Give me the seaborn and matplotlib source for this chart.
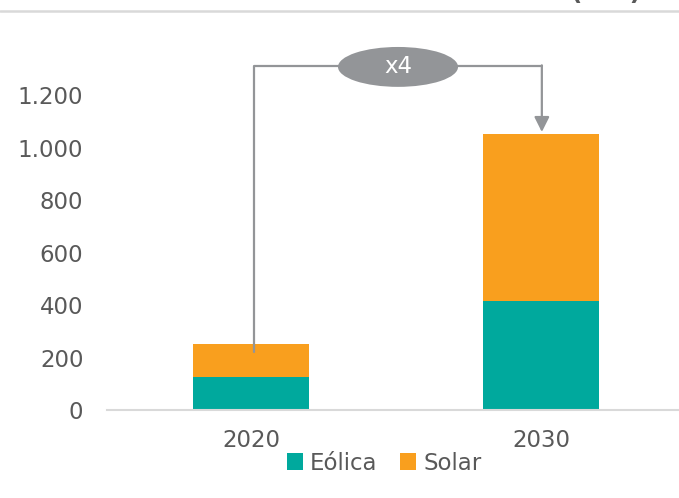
import matplotlib
matplotlib.use("Agg")
import matplotlib.pyplot as plt
from matplotlib.patches import Ellipse, Patch
from matplotlib.lines import Line2D
import seaborn as sns
import pandas as pd

# Installed capacity by technology
years = ["2020", "2030"]
eolica = [125, 415]
solar = [126, 636]
series_names = ["Eólica", "Solar"]
yticks = [0, 200, 400, 600, 800, 1000, 1200]
ytick_labels = ["0", "200", "400", "600", "800", "1.000", "1.200"]
growth_label = "x4"

teal = "#00A99D"
orange = "#F99F1E"
grey_text = "#595959"
connector = "#939598"

df = pd.DataFrame({"year": years, "eolica": eolica, "solar": solar})
df["total"] = df["eolica"] + df["solar"]

sns.set_style("white")
plt.rcParams["font.family"] = ["DejaVu Sans"]

W, H = 679, 498
fig = plt.figure(figsize=(W / 100, H / 100), dpi=100)
ax = fig.add_axes([107 / W, (H - 410) / H, 1 - 107 / W, 367.5 / H])

# stacked bars: total first (solar on top), then wind from the base
sns.barplot(data=df, x="year", y="total", color=orange, width=0.4,
            saturation=1, ax=ax, edgecolor="none")
sns.barplot(data=df, x="year", y="eolica", color=teal, width=0.4,
            saturation=1, ax=ax, edgecolor="none")

ax.set_xlim(-0.4966, 1.476)
ax.set_ylim(0, 1400)
ax.set_yticks(yticks)
ax.set_yticklabels(ytick_labels)
ax.set_xlabel("")
ax.set_ylabel("")
for s in ["top", "right", "left"]:
    ax.spines[s].set_visible(False)
ax.spines["bottom"].set_color("#d9d9d9")
ax.spines["bottom"].set_linewidth(1.5)
ax.tick_params(axis="y", length=0, pad=17, labelsize=16.5, labelcolor=grey_text)
ax.tick_params(axis="x", length=0, pad=14, labelsize=16.5, labelcolor=grey_text)

# growth connector from 2020 bar to 2030 bar
x0, x1 = 0.01, 1.003
y_start = df["total"][0] - 30
y_top = 1310
y_end = df["total"][1] + 8
ax.add_line(Line2D([x0, x0, x1], [y_start, y_top, y_top], color=connector,
                   lw=1.6, clip_on=False, zorder=3))
ax.annotate("", xy=(x1, y_end), xytext=(x1, y_top + 3),
            arrowprops=dict(arrowstyle="-|>,head_length=0.9,head_width=0.45",
                            color=connector, lw=1.6, shrinkA=0, shrinkB=0),
            annotation_clip=False, zorder=3)
ell = Ellipse((0.507, 1307), width=0.414, height=152, facecolor=connector,
              edgecolor="none", clip_on=False, zorder=4)
ax.add_patch(ell)
ax.text(0.507, 1307, growth_label, ha="center", va="center", color="white",
        fontsize=16.5, zorder=5, clip_on=False)

# header rule and units
fig.add_artist(Line2D([0, 1], [1 - 11 / H, 1 - 11 / H], color="#d9d9d9",
                      lw=1.8, transform=fig.transFigure))
fig.text(642 / W, 1 - 5 / H, "(GW)", ha="right", va="bottom",
         fontsize=18, fontweight="bold", color=grey_text)

handles = [Patch(facecolor=teal, edgecolor="none"),
           Patch(facecolor=orange, edgecolor="none")]
fig.legend(handles, series_names, loc="center", ncol=2,
           bbox_to_anchor=(384 / W, 1 - 463 / H), frameon=False,
           fontsize=16.5, labelcolor=grey_text, handlelength=0.7,
           handleheight=0.7, handletextpad=0.3, columnspacing=1.0,
           borderaxespad=0)

fig.savefig("out.png", dpi=100)
